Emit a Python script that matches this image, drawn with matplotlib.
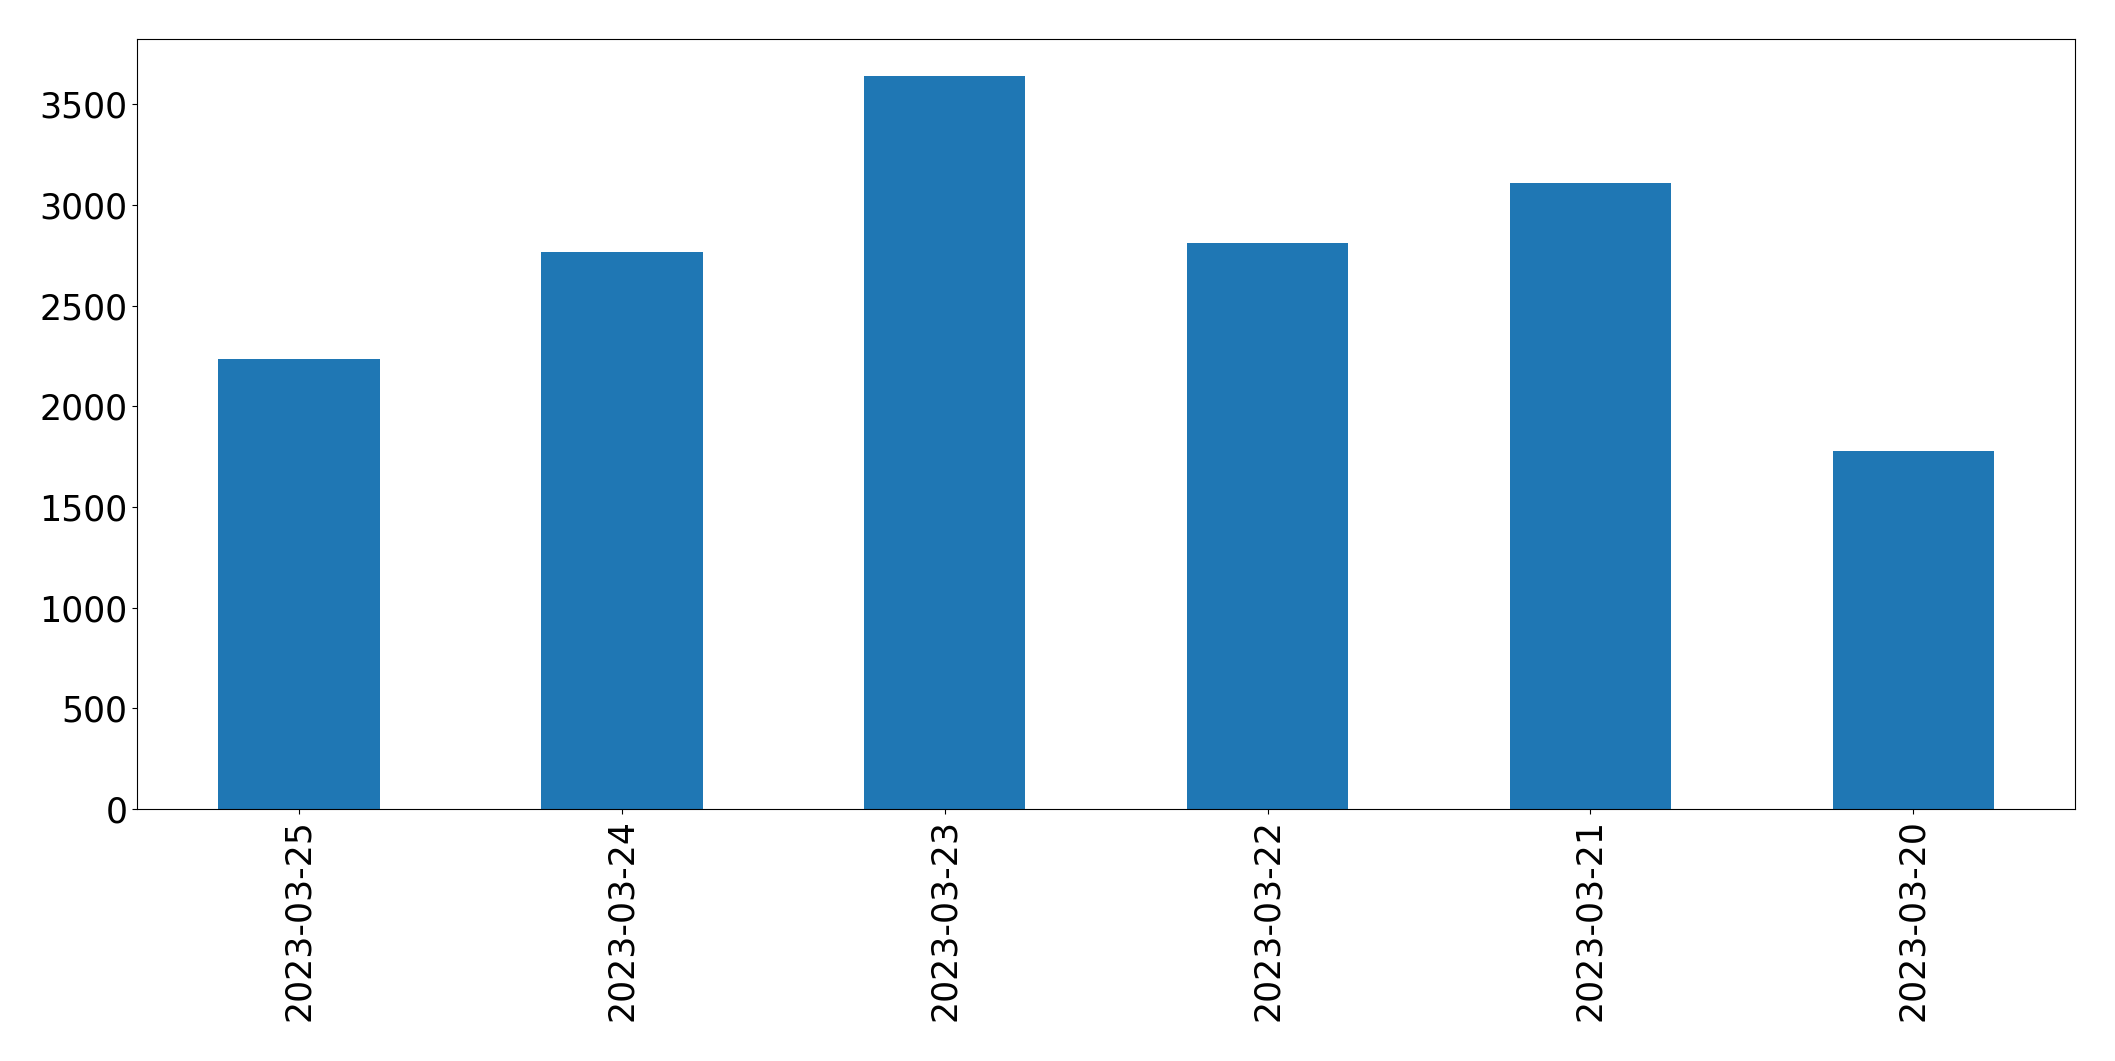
import matplotlib
matplotlib.use("Agg")
import matplotlib.pyplot as plt
import numpy as np

dates = ["2023-03-25", "2023-03-24", "2023-03-23", "2023-03-22", "2023-03-21", "2023-03-20"]
counts = [2234, 2766, 3641, 2810, 3108, 1777]

fig, ax = plt.subplots(figsize=(21.15, 10.61), dpi=100)
x = np.arange(len(dates))
ax.bar(x, counts, width=0.5, color="#1f77b4")
ax.set_xticks(x)
ax.set_xticklabels(dates, rotation=90)
ax.set_xlim(-0.5, len(dates) - 0.5)
ax.tick_params(labelsize=25)
plt.subplots_adjust(left=0.065, right=0.981, top=0.963, bottom=0.2375)
plt.savefig("out.png")
